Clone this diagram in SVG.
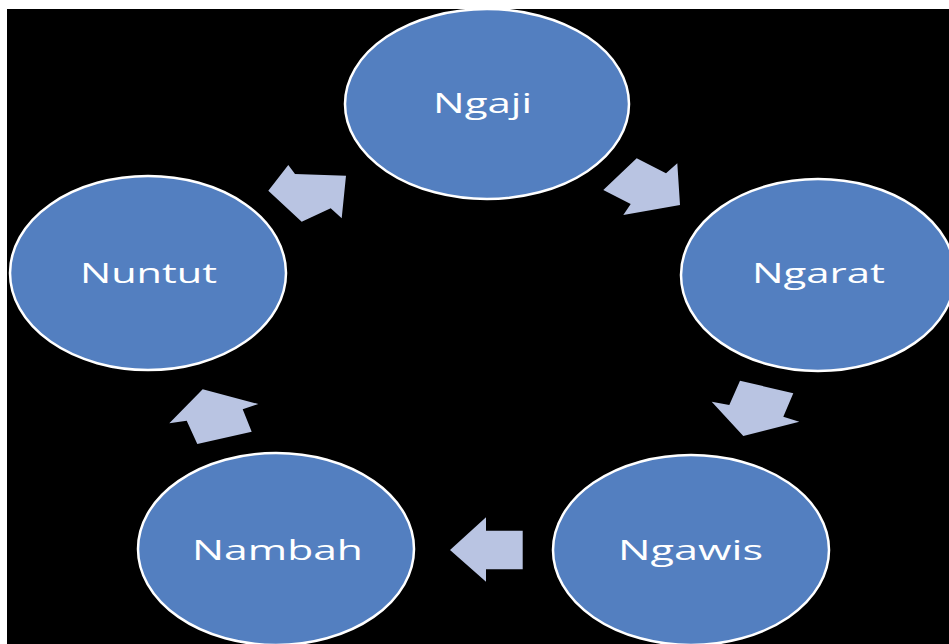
<svg xmlns="http://www.w3.org/2000/svg" width="949" height="644" viewBox="0 0 949 644">
<style>
.node ellipse{fill:#537FC0;stroke:#FFFFFF;stroke-width:2.5}
.node text{fill:#FFFFFF;font-family:"Open Sans","Liberation Sans",sans-serif;font-size:28px;font-weight:400}
.arr polygon{fill:#B9C4E2}
</style>
<rect x="0" y="0" width="949" height="644" fill="#FFFFFF"/>
<rect x="7" y="9" width="942" height="635" fill="#000000"/>
<g class="arr" id="connectors">
<polygon points="288.3,165 295,174 346,175.7 341.7,218.3 330.7,208.3 301.7,221.7 268.3,190.7"/>
<polygon points="636.7,158.3 666,173.3 677.3,163.3 680,205 623.3,215 630.7,204 603.3,190"/>
<polygon points="740,380.7 793.3,393.3 783.3,416.7 799.3,421.7 743.3,436 711.7,401.7 729.3,405"/>
<polygon points="450,550 486,517.3 486,530.7 522.7,530.7 522.7,569.3 486,569.3 486,581.7"/>
<polygon points="202.7,389.3 258.3,404 242.7,409.3 251.7,431.7 197.3,444 186.7,420.7 169.3,423.3"/>
</g>
<g class="node" id="ngaji">
<ellipse cx="487" cy="104" rx="142" ry="95"/>
<text x="433" y="113" textLength="99" lengthAdjust="spacingAndGlyphs">Ngaji</text>
</g>
<g class="node" id="ngarat">
<ellipse cx="818" cy="275" rx="137" ry="96"/>
<text x="752" y="283" textLength="133" lengthAdjust="spacingAndGlyphs">Ngarat</text>
</g>
<g class="node" id="ngawis">
<ellipse cx="691" cy="550" rx="138" ry="95"/>
<text x="618" y="560" textLength="145" lengthAdjust="spacingAndGlyphs">Ngawis</text>
</g>
<g class="node" id="nambah">
<ellipse cx="276" cy="549" rx="138" ry="96"/>
<text x="192" y="560" textLength="171" lengthAdjust="spacingAndGlyphs">Nambah</text>
</g>
<g class="node" id="nuntut">
<ellipse cx="148" cy="273" rx="138" ry="97"/>
<text x="80" y="283" textLength="137" lengthAdjust="spacingAndGlyphs">Nuntut</text>
</g>
</svg>
